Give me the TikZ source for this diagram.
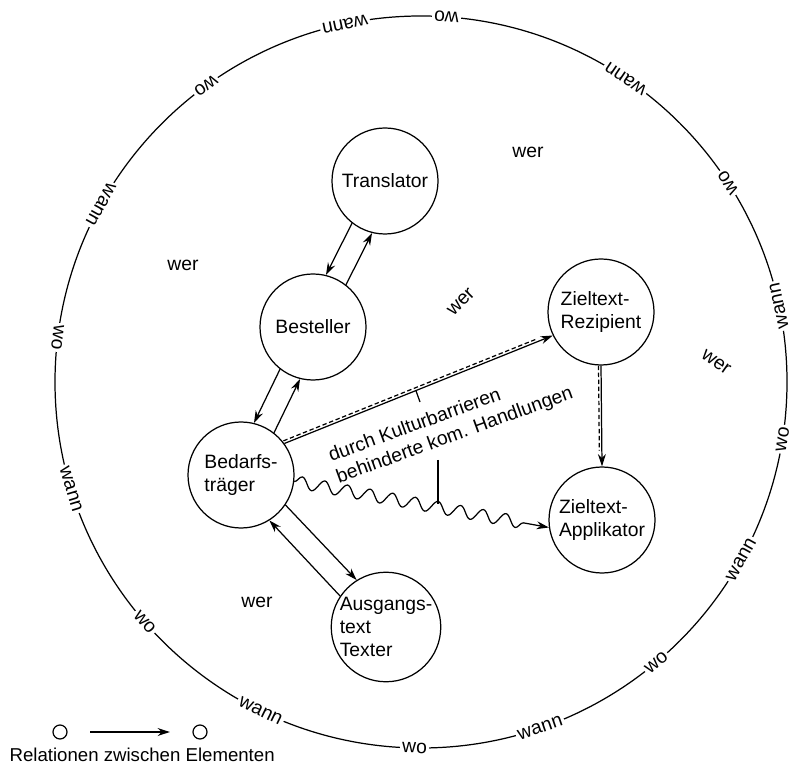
\documentclass[tikz,border=0pt]{standalone}
\usepackage{fontspec}
\setmainfont{Liberation Sans}
\usetikzlibrary{arrows.meta,calc,decorations.pathmorphing}

\begin{document}
\begin{tikzpicture}[x=0.2mm,y=0.2mm,line width=0.7pt,
    actor/.style={shape=circle,draw,minimum size=21.2mm,inner sep=0pt,align=left,font=\fontsize{11}{13}\selectfont},
    ringword/.style={fill=white,inner sep=1.2pt,font=\fontsize{11}{13}\selectfont},
    wer/.style={font=\fontsize{11}{13}\selectfont},
    rel/.style={-{Stealth[length=7pt,width=4.5pt]}},
    barrier/.style={postaction={draw,-,dash pattern=on 2.5pt off 1.5pt,shorten >=9pt,transform canvas={shift={#1}}}},
    dot/.style={shape=circle,draw,minimum size=2.8mm,inner sep=0pt}]
\useasboundingbox (0,0) rectangle (794,766);

% situation circle: wo / wann
\coordinate (ring) at (421,384);
\draw (ring) circle[radius=366];
\foreach \ang/\word [count=\i] in {-91/wo,-71/wann,-50/wo,-29/wann,-9/wo,12/wann,33/wo,56/wann,86/wo,102/wann,126/wo,151/wann,173/wo,197/wann,221/wo,244/wann}
    \node[ringword,rotate=\ang+90] (w\i) at ($(ring)+(\ang:366)$) {\word};

% wer
\node[wer] (wer1) at (183,501) {wer};
\node[wer] (wer2) at (528,614) {wer};
\node[wer,rotate=45] (wer3) at (461,464) {wer};
\node[wer,rotate=-35] (wer4) at (716,404) {wer};
\node[wer] (wer5) at (257,164) {wer};

% Elemente
\node[actor] (Tra) at (385,585) {Translator};
\node[actor] (Bes) at (313,439) {Besteller};
\node[actor] (Bed) at (241,291) {Bedarfs-\\träger};
\node[actor] (Rez) at (601,454) {Zieltext-\\Rezipient};
\node[actor] (App) at (602,246) {Zieltext-\\Applikator};
\node[actor] (Aus) at (386,139) {Ausgangs-\\text\\Texter};

% Relationen
\path [rel] (Tra.232) edge (Bes.76);
\path [rel] (Bes.52) edge (Tra.256);
\path [rel] (Bes.232) edge (Bed.76);
\path [rel] (Bed.52) edge (Bes.256);
\path [rel] (Bed.326) edge (Aus.122);
\path [rel] (Aus.146) edge (Bed.302);

\draw [rel,barrier={(-1,2.6)}] (Bed.36) -- coordinate[pos=0.49] (onbar) (Rez.206);
\draw [rel,barrier={(-2.5,0)}] (Rez.270) -- (App.90);
\draw [rel,decorate,decoration={snake,amplitude=1.2mm,segment length=4.6mm,post length=3mm}] (Bed.353) -- (App.188);

% Kulturbarrieren
\node[wer,rotate=20,align=left] (note) at (451,341) {durch Kulturbarrieren\\behinderte kom. Handlungen};
\coordinate (tickend) at (420,364);
\coordinate (notefoot) at (438,306);
\coordinate (onwave) at (438,262);
\draw (onbar) -- (tickend);
\draw (notefoot) -- (onwave);

% Legende
\node[dot] (from) at (60,34) {};
\node[dot] (to) at (200,34) {};
\draw [rel,shorten <=4.5mm,shorten >=4.5mm] (from) -- (to);
\node[anchor=west,inner sep=0pt,font=\fontsize{10.6}{12}\selectfont] (legend) at (9,11) {Relationen zwischen Elementen};
\end{tikzpicture}
\end{document}
